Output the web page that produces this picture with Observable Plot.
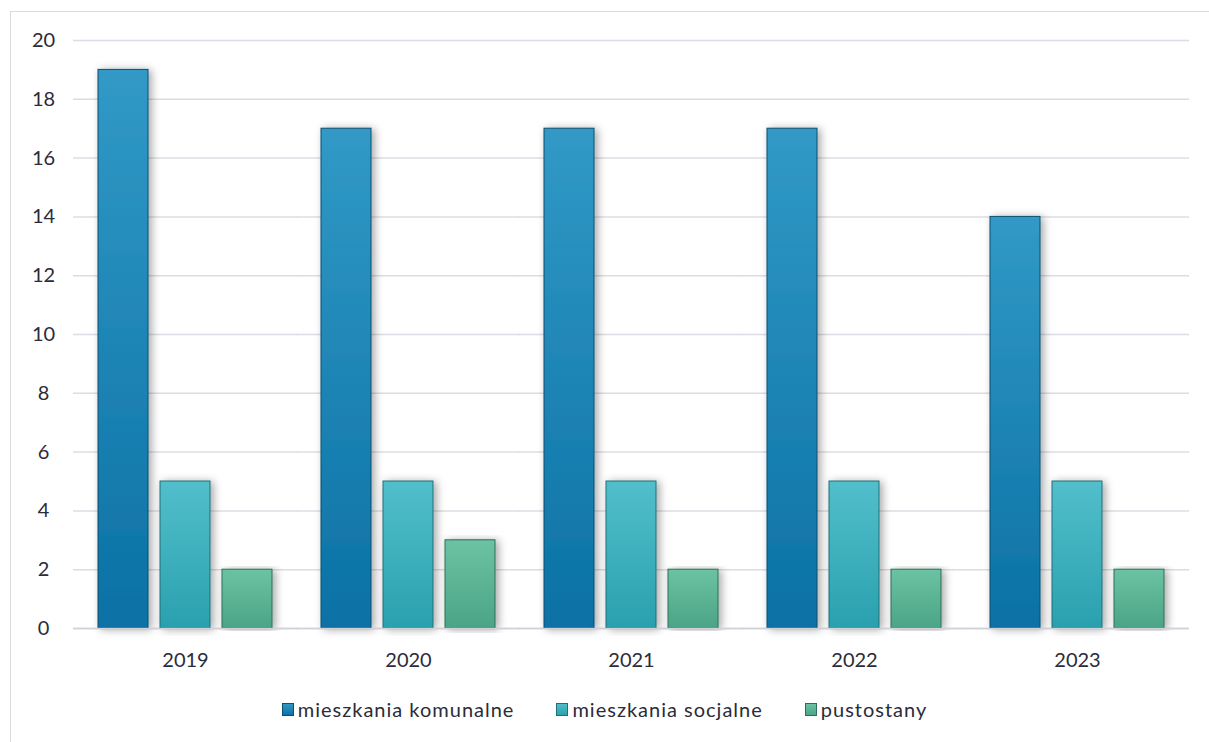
<!DOCTYPE html>
<html>
<head>
<meta charset="utf-8">
<script src="https://cdn.jsdelivr.net/npm/d3@7"></script>
<script src="https://cdn.jsdelivr.net/npm/@observablehq/plot@0.6"></script>
<style>
  html, body { margin: 0; padding: 0; background: #fff; }
  body { width: 1209px; height: 742px; overflow: hidden; position: relative; font-family: Lato, "Open Sans", sans-serif; }
  #frame { position: absolute; left: 10px; top: 11px; width: 1220px; height: 760px; border-left: 1px solid #d9d9e0; border-top: 1px solid #d9d9e0; }
  #chart { position: absolute; left: 0; top: 0; }
  #legend { position: absolute; left: 0; width: 1209px; top: 697px; display: flex; justify-content: center; gap: 42px; font-size: 20px; letter-spacing: 1px; color: #2b2b3a; }
  #legend .item { display: flex; align-items: center; }
  #legend svg { margin-right: 4px; }
</style>
</head>
<body>
<div id="frame"></div>
<div id="chart"></div>
<div id="legend"></div>
<script>
const years = ["2019", "2020", "2021", "2022", "2023"];
const seriesNames = ["mieszkania komunalne", "mieszkania socjalne", "pustostany"];
const komunalne = [19, 17, 17, 17, 14];
const socjalne = [5, 5, 5, 5, 5];
const pustostany = [2, 3, 2, 2, 2];
const yTicks = [0, 2, 4, 6, 8, 10, 12, 14, 16, 18, 20];

const seriesValues = [komunalne, socjalne, pustostany];
const gradIds = ["gKom", "gSoc", "gPus"];
const gradStops = [
  ["#3199c6", "#0b71a5"],
  ["#52bfcb", "#2aa0ae"],
  ["#6cc3a3", "#4ba486"]
];
const strokes = ["#0d4f70", "#1e6f78", "#2f6e58"];

const data = [];
years.forEach((y, i) => {
  seriesNames.forEach((s, j) => {
    data.push({year: y, series: s, value: seriesValues[j][i], idx: j});
  });
});

const chart = Plot.plot({
  width: 1209,
  height: 680,
  marginLeft: 72,
  marginRight: 20,
  marginTop: 40,
  marginBottom: 52,
  style: {fontFamily: "Lato, 'Open Sans', sans-serif", fontSize: "20px", color: "#2b2b3a", background: "transparent"},
  fx: {domain: years, paddingInner: 0.22, paddingOuter: 0.11, label: null},
  x: {domain: seriesNames, paddingInner: 0.194, paddingOuter: 0, axis: null},
  y: {domain: [0, 20], ticks: yTicks, label: null},
  marks: [
    Plot.ruleY(yTicks, {stroke: "#dcdce4", strokeWidth: 1.5, insetLeft: -25, insetRight: -25}),
    Plot.barY(data, {fx: "year", x: "series", y: "value",
      fill: d => `url(#${gradIds[d.idx]})`,
      stroke: d => strokes[d.idx], strokeWidth: 1}),
    Plot.ruleY([0], {stroke: "#cfd0d8", strokeWidth: 1.5, insetLeft: -25, insetRight: -25}),
    Plot.axisY(yTicks, {tickSize: 0, tickPadding: 55, textAnchor: "middle", fontSize: 20, fill: "#2b2b3a"}),
    Plot.axisFx({anchor: "bottom", tickSize: 0, tickPadding: 24, fontSize: 20, fill: "#2b2b3a", label: null})
  ]
});

// gradients and shadow filter
const ns = "http://www.w3.org/2000/svg";
function addDefs(svg) {
  const defs = document.createElementNS(ns, "defs");
  gradIds.forEach((id, i) => {
    const g = document.createElementNS(ns, "linearGradient");
    g.setAttribute("id", id);
    g.setAttribute("x1", "0"); g.setAttribute("y1", "0");
    g.setAttribute("x2", "0"); g.setAttribute("y2", "1");
    [[0, gradStops[i][0]], [1, gradStops[i][1]]].forEach(([o, c]) => {
      const s = document.createElementNS(ns, "stop");
      s.setAttribute("offset", o);
      s.setAttribute("stop-color", c);
      g.appendChild(s);
    });
    defs.appendChild(g);
  });
  const f = document.createElementNS(ns, "filter");
  f.setAttribute("id", "shadow");
  f.setAttribute("x", "-30%"); f.setAttribute("y", "-5%");
  f.setAttribute("width", "170%"); f.setAttribute("height", "110%");
  const ds = document.createElementNS(ns, "feDropShadow");
  ds.setAttribute("dx", "3"); ds.setAttribute("dy", "1");
  ds.setAttribute("stdDeviation", "4");
  ds.setAttribute("flood-color", "#000");
  ds.setAttribute("flood-opacity", "0.35");
  f.appendChild(ds);
  defs.appendChild(f);
  svg.insertBefore(defs, svg.firstChild);
}
addDefs(chart);
chart.querySelectorAll('g[aria-label="bar"] rect').forEach(r => r.setAttribute("filter", "url(#shadow)"));
document.getElementById("chart").appendChild(chart);

// legend
const legend = document.getElementById("legend");
seriesNames.forEach((s, i) => {
  const item = document.createElement("div");
  item.className = "item";
  const sw = document.createElementNS(ns, "svg");
  sw.setAttribute("width", "12");
  sw.setAttribute("height", "13");
  const r = document.createElementNS(ns, "rect");
  r.setAttribute("x", "0.5"); r.setAttribute("y", "0.5");
  r.setAttribute("width", "11"); r.setAttribute("height", "12");
  r.setAttribute("fill", `url(#${gradIds[i]})`);
  r.setAttribute("stroke", strokes[i]);
  sw.appendChild(r);
  item.appendChild(sw);
  const t = document.createElement("span");
  t.textContent = s;
  item.appendChild(t);
  legend.appendChild(item);
});
</script>
</body>
</html>
